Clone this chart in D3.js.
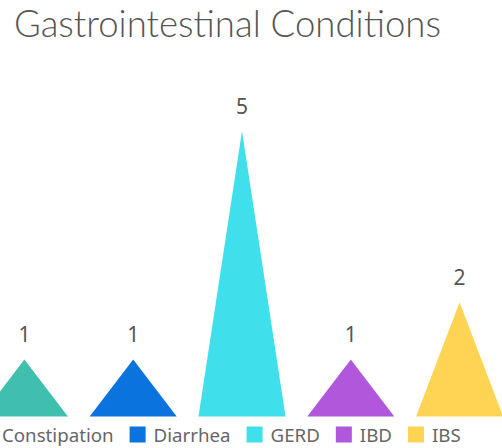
<!DOCTYPE html>
<html>
<head>
<meta charset="utf-8">
<script src="https://cdn.jsdelivr.net/npm/d3@7"></script>
<style>
  html, body { margin: 0; padding: 0; background: #fff; }
  svg { display: block; }
</style>
</head>
<body>
<svg id="chart" width="502" height="448"></svg>
<script>
const categories = ["Constipation", "Diarrhea", "GERD", "IBD", "IBS"];
const values = [1, 1, 5, 1, 2];
const colors = ["#40bfae", "#0a73de", "#40dfec", "#b057dc", "#ffd454"];
const titleText = "Gastrointestinal Conditions";

const W = 502, H = 448;
const svg = d3.select("#chart");
const FONT = "Lato, 'Noto Sans', sans-serif";
const LFONT = "'Noto Sans', 'Open Sans', sans-serif";

const title = svg.append("text")
  .attr("x", 14).attr("y", 37)
  .attr("font-family", FONT)
  .attr("font-weight", 300)
  .attr("font-size", 36)
  .attr("fill", "#555")
  .text(titleText);
// fit title to its width in the reference
const tw = title.node().getComputedTextLength();
title.attr("font-size", 36 * 427 / tw);

const x = d3.scaleBand().domain(categories).range([-30, 514]).paddingInner(0.2).paddingOuter(0.1);
const y = d3.scaleLinear().domain([0, 5]).range([416.5, 131]);

const g = svg.append("g");
const data = categories.map((c, i) => ({ c, v: values[i], col: colors[i] }));

const bw = x.bandwidth();
g.selectAll("path.bar").data(data).join("path")
  .attr("class", "bar")
  .attr("fill", d => d.col)
  .attr("d", d => {
    const x0 = x(d.c), x1 = x0 + bw, xm = x0 + bw / 2;
    return `M${x0},${y(0)}L${xm},${y(d.v)}L${x1},${y(0)}Z`;
  });

g.selectAll("text.lbl").data(data).join("text")
  .attr("class", "lbl")
  .attr("x", d => x(d.c) + bw / 2)
  .attr("y", d => y(d.v) - 17)
  .attr("text-anchor", "middle")
  .attr("font-family", LFONT)
  .attr("font-size", 21)
  .attr("fill", "#555")
  .text(d => d.v);

// legend
const leg = svg.append("g");
let cx = -22;
data.forEach(d => {
  const it = leg.append("g");
  it.append("rect").attr("x", cx).attr("y", 426.5).attr("width", 16).attr("height", 16).attr("fill", d.col);
  const t = it.append("text")
    .attr("x", cx + 24).attr("y", 442)
    .attr("font-family", LFONT)
    .attr("font-size", 18.7)
    .attr("fill", "#666")
    .text(d.c);
  cx += 24 + t.node().getComputedTextLength() + 16;
});
</script>
</body>
</html>
